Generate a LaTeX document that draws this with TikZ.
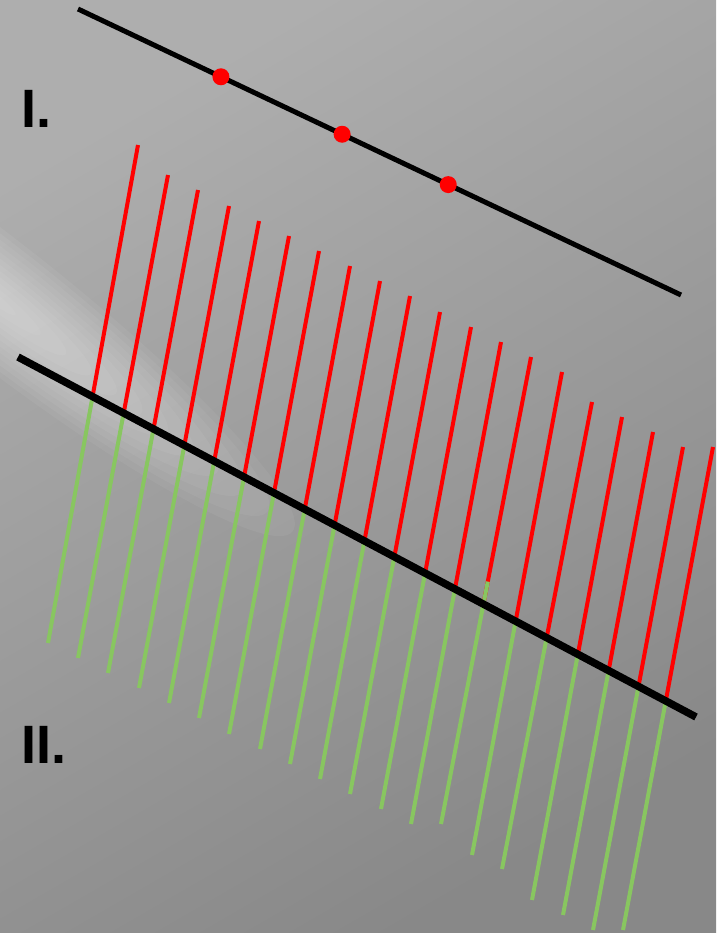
\documentclass[tikz,border=0pt]{standalone}
\usepackage{fontspec}
\setmainfont{Liberation Sans}
\usetikzlibrary{calc}
\definecolor{bgtop}{RGB}{174,174,174}
\definecolor{bgbot}{RGB}{136,136,136}
\definecolor{leaf}{RGB}{136,198,96}
\begin{document}
\begin{tikzpicture}[x=1pt, y=-1pt,
    axis/.style={line width=5pt},
    base/.style={line width=7.5pt},
    ray/.style={line width=4pt, red},
    tail/.style={line width=4pt, leaf},
    dot/.style={circle, fill=red, inner sep=0pt, minimum size=17pt},
    lbl/.style={font=\bfseries\fontsize{54}{54}\selectfont, inner sep=0pt, anchor=base west}
  ]
  \useasboundingbox (0,0) rectangle (716,933);
  \begin{scope}
    \clip (0,0) rectangle (716,933);
    \shade[top color=bgtop, bottom color=bgbot, shading angle=30] (0,0) rectangle (716,933);
    \begin{scope}[shift={(-10,295)}, rotate=-38]
      \foreach \k in {1,...,12}
        \fill[white, fill opacity=0.05] (0,0) ellipse [x radius=32*\k, y radius=5*\k];
    \end{scope}
  \end{scope}

  \coordinate (Aa) at (78,9);
  \coordinate (Ab) at (681,295);
  \coordinate (Ba) at (18,357);
  \coordinate (Bb) at (696,717);

  \foreach \xt/\yt/\yb/\gs [count=\i] in {138/145/643/0, 168/175/658/0, 198/190/673/0, 229/206/688/0,
      259/221/703/0, 289/236/718/0, 319/251/734/0, 350/266/749/0, 380/281/764/0, 410/296/779/0,
      440/312/794/0, 471/327/809/0, 501/342/824/0, 531/357/824/23, 562/372/855/0, 592/402/869/0,
      622/417/900/0, 653/432/915/0, 683/447/930/0, 713/447/930/0} {
    \coordinate (t\i) at (\xt,\yt);
    \coordinate (b\i) at (\xt-90,\yb);
    \coordinate (m\i) at (intersection of Ba--Bb and t\i--b\i);
    \draw[ray] (t\i) -- (m\i);
    \draw[tail] ($(m\i)!-\gs pt!(b\i)$) -- (b\i);
  }

  \draw[base] (Ba) -- (Bb);
  \draw[axis] (Aa) -- (Ab);
  \path (Aa) -- (Ab) coordinate[pos=0.237] (p1) coordinate[pos=0.438] (p2) coordinate[pos=0.614] (p3);
  \node[dot] (d1) at (p1) {};
  \node[dot] (d2) at (p2) {};
  \node[dot] (d3) at (p3) {};

  \node[lbl] (one) at (21,128) {I.};
  \node[lbl] (two) at (21,763) {II.};
\end{tikzpicture}
\end{document}
